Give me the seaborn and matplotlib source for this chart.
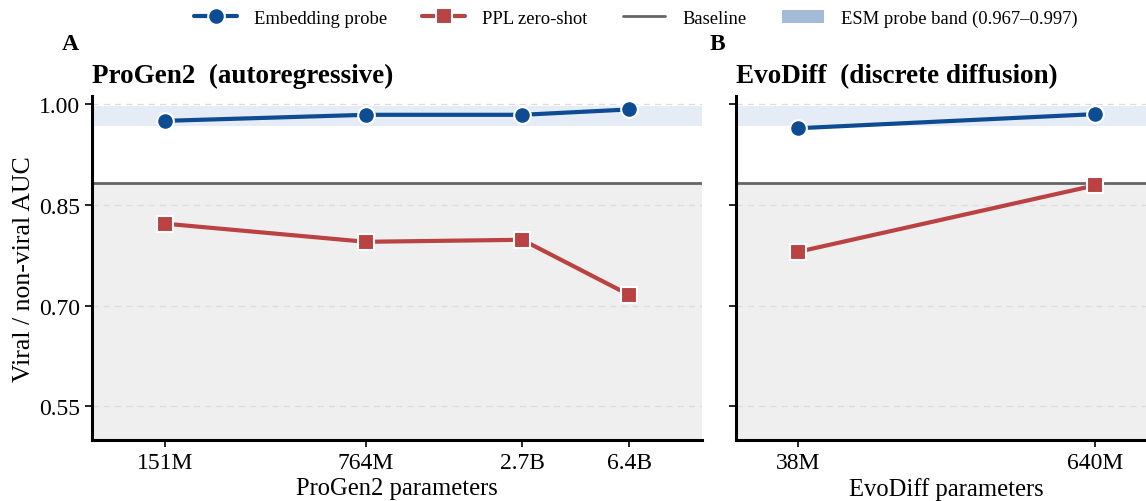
import numpy as np
import pandas as pd
import matplotlib
matplotlib.use("Agg")
import matplotlib.pyplot as plt
from matplotlib.lines import Line2D
from matplotlib.patches import Patch
import seaborn as sns

# ---- data ----
progen_params = [151e6, 764e6, 2.7e9, 6.4e9]
progen_labels = ["151M", "764M", "2.7B", "6.4B"]
progen_embed = [0.975, 0.984, 0.984, 0.992]
progen_ppl = [0.822, 0.795, 0.798, 0.716]

evodiff_params = [38e6, 640e6]
evodiff_labels = ["38M", "640M"]
evodiff_embed = [0.964, 0.985]
evodiff_ppl = [0.780, 0.879]

baseline = 0.883
band_lo, band_hi = 0.967, 0.997
yticks = [0.55, 0.70, 0.85, 1.00]

BLUE = "#0d4c93"
RED = "#bb4242"
GREY = "#666666"

sns.set_theme(style="white")
plt.rcParams["font.family"] = ["Liberation Serif", "DejaVu Serif"]
plt.rcParams["text.color"] = "black"
plt.rcParams["axes.labelcolor"] = "black"
plt.rcParams["xtick.color"] = "black"
plt.rcParams["ytick.color"] = "black"

fig = plt.figure(figsize=(11.46, 5.02), dpi=100)
axA = fig.add_axes([92 / 1146, 61 / 502, 610 / 1146, 344 / 502])
axB = fig.add_axes([736 / 1146, 61 / 502, 421 / 1146, 344 / 502])

panels = [
    (axA, progen_params, progen_labels, progen_embed, progen_ppl,
     "ProGen2 parameters", "ProGen2  (autoregressive)", "A", -0.049),
    (axB, evodiff_params, evodiff_labels, evodiff_embed, evodiff_ppl,
     "EvoDiff parameters", "EvoDiff  (discrete diffusion)", "B", -0.062),
]

for ax, params, labels, emb, ppl, xlabel, title, letter, lx in panels:
    df = pd.DataFrame({"params": params, "embed": emb, "ppl": ppl})
    ax.set_xscale("log")
    xmin, xmax = min(params) / 1.8, max(params) * 1.8
    ax.set_xlim(xmin, xmax)
    ax.set_ylim(0.50, 1.012)
    ax.axhspan(0.50, baseline, color="#efefef", zorder=0, lw=0)
    ax.axhspan(band_lo, band_hi, color="#e6ecf5", zorder=0.5, lw=0)
    for yt in yticks:
        ax.axhline(yt, color="#dcdcdc", lw=0.9, ls=(0, (5, 4)), zorder=0.8)
    ax.axhline(baseline, color=GREY, lw=2.0, zorder=1)
    sns.lineplot(data=df, x="params", y="embed", ax=ax, color=BLUE, lw=3,
                 marker="o", markersize=12, markeredgecolor="white",
                 markeredgewidth=1.5, zorder=3)
    sns.lineplot(data=df, x="params", y="ppl", ax=ax, color=RED, lw=3,
                 marker="s", markersize=11, markeredgecolor="white",
                 markeredgewidth=1.5, zorder=3)
    ax.set_xticks(params)
    ax.set_xticklabels(labels)
    ax.xaxis.set_minor_locator(matplotlib.ticker.NullLocator())
    ax.set_yticks(yticks)
    ax.set_xlabel(xlabel, fontsize=17.7, labelpad=3)
    ax.set_ylabel("")
    for s in ["top", "right"]:
        ax.spines[s].set_visible(False)
    for s in ["left", "bottom"]:
        ax.spines[s].set_color("black")
        ax.spines[s].set_linewidth(2.2)
    ax.tick_params(axis="both", which="major", direction="out", length=5,
                   width=1.2, color="black", labelsize=17, bottom=True, left=True)
    ax.set_title(title, loc="left", fontsize=19.5, fontweight="bold", pad=10,
                 color="black")
    ax.text(lx, 1.154, letter, transform=ax.transAxes, fontsize=17,
            fontweight="bold", ha="left", va="center", color="black")

axA.set_yticklabels([f"{v:.2f}" for v in yticks])
axB.set_yticklabels([])
axA.set_ylabel("Viral / non-viral AUC", fontsize=18.5, labelpad=3)

handles = [
    Line2D([], [], color=BLUE, lw=3, marker="o", markersize=12,
           markeredgecolor="white", markeredgewidth=1.5),
    Line2D([], [], color=RED, lw=3, marker="s", markersize=11,
           markeredgecolor="white", markeredgewidth=1.5),
    Line2D([], [], color=GREY, lw=2),
    Patch(facecolor="#a4bad7", edgecolor="none"),
]
labels = ["Embedding probe", "PPL zero-shot", "Baseline",
          "ESM probe band (0.967\u20130.997)"]
fig.legend(handles, labels, loc="center", bbox_to_anchor=(0.555, 1 - 19 / 502),
           ncol=4, frameon=False, fontsize=13.4, handlelength=2.3,
           columnspacing=1.9, handletextpad=0.9)

fig.savefig("out.png", dpi=100)
